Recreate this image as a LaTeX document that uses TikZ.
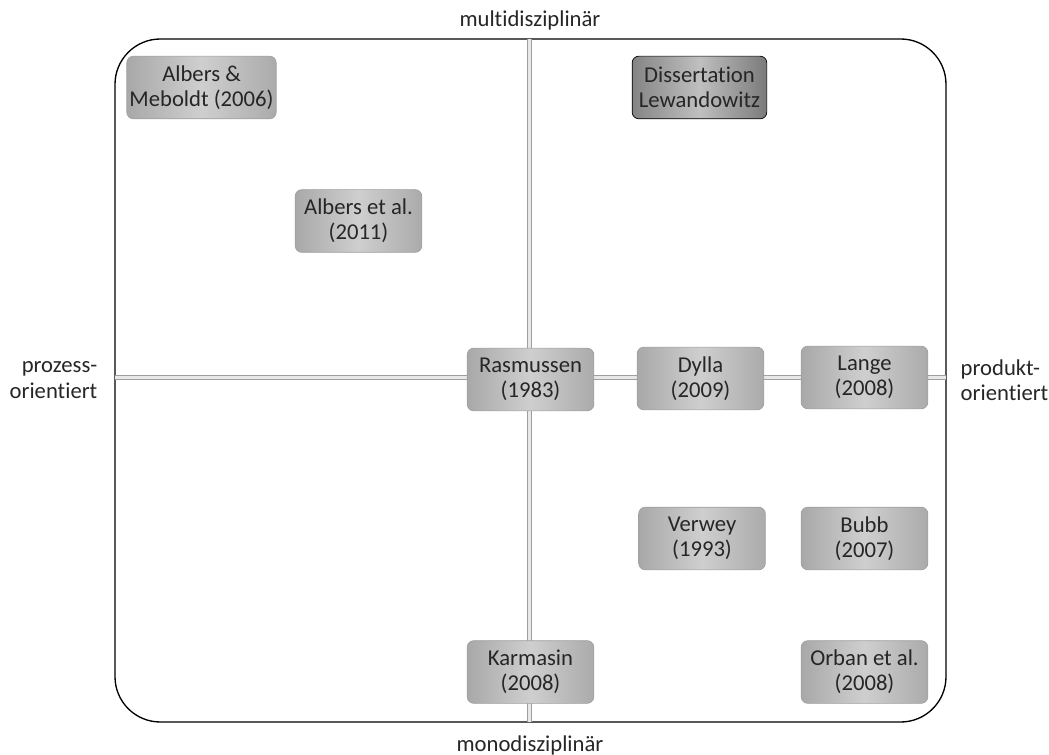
\documentclass[tikz,border=0pt]{standalone}
\usepackage{fontspec}
\setmainfont{Carlito}[Ligatures={NoCommon,NoContextual}]
\usetikzlibrary{calc}

\begin{document}
\begin{tikzpicture}[x=0.75pt,y=-0.75pt,
  lbl/.style={font=\fontsize{17}{19}\selectfont, text=black!85, align=center},
  paper/.style={lbl, rounded corners=5pt, draw=gray!75, line width=0.5pt,
    left color=gray!68, right color=gray!66, middle color=gray!38,
    minimum width=95pt, minimum height=47pt, inner sep=2pt},
  own/.style={paper, draw=black, left color=black!48, right color=black!52, middle color=black!25},
  axis/.style={draw=gray!75, double=gray!18, double distance=2pt, line width=0.7pt}]
\useasboundingbox (0,0) rectangle (1049,755);
% frame
\draw[line width=1pt, rounded corners=34pt] (115,39) rectangle (946,722);
\coordinate (top) at (529.5,39);
\coordinate (bot) at (529.5,722);
\coordinate (west) at (115,377.5);
\coordinate (east) at (946,377.5);
\draw[axis] (top) -- (bot);
\draw[axis] (west) -- (east);
% axis labels
\node[lbl] (multi) at (530,20) {multidisziplinär};
\node[lbl] (mono) at (530,745) {monodisziplinär};
\node[lbl, anchor=east, align=right] (proz) at (102,380) {prozess-\\orientiert};
\node[lbl, anchor=west, align=left] (prod) at (956,380) {produkt-\\orientiert};
% papers
\node[paper, minimum width=112pt] (albmeb) at (201.5,87.5) {Albers \&\\Meboldt (2006)};
\node[own, minimum width=101pt] (diss) at (699.5,87.5) {Dissertation\\Lewandowitz};
\node[paper] (albers) at (358.5,221) {Albers et al.\\(2011)};
\node[paper] (rasm) at (530.5,379.5) {Rasmussen\\(1983)};
\node[paper] (dylla) at (700.5,378.5) {Dylla\\(2009)};
\node[paper] (lange) at (864.5,377.5) {Lange\\(2008)};
\node[paper] (verwey) at (702,538.5) {Verwey\\(1993)};
\node[paper] (bubb) at (864.5,538.5) {Bubb\\(2007)};
\node[paper] (karm) at (530.5,672) {Karmasin\\(2008)};
\node[paper] (orban) at (864.5,672) {Orban et al.\\(2008)};
\end{tikzpicture}
\end{document}
